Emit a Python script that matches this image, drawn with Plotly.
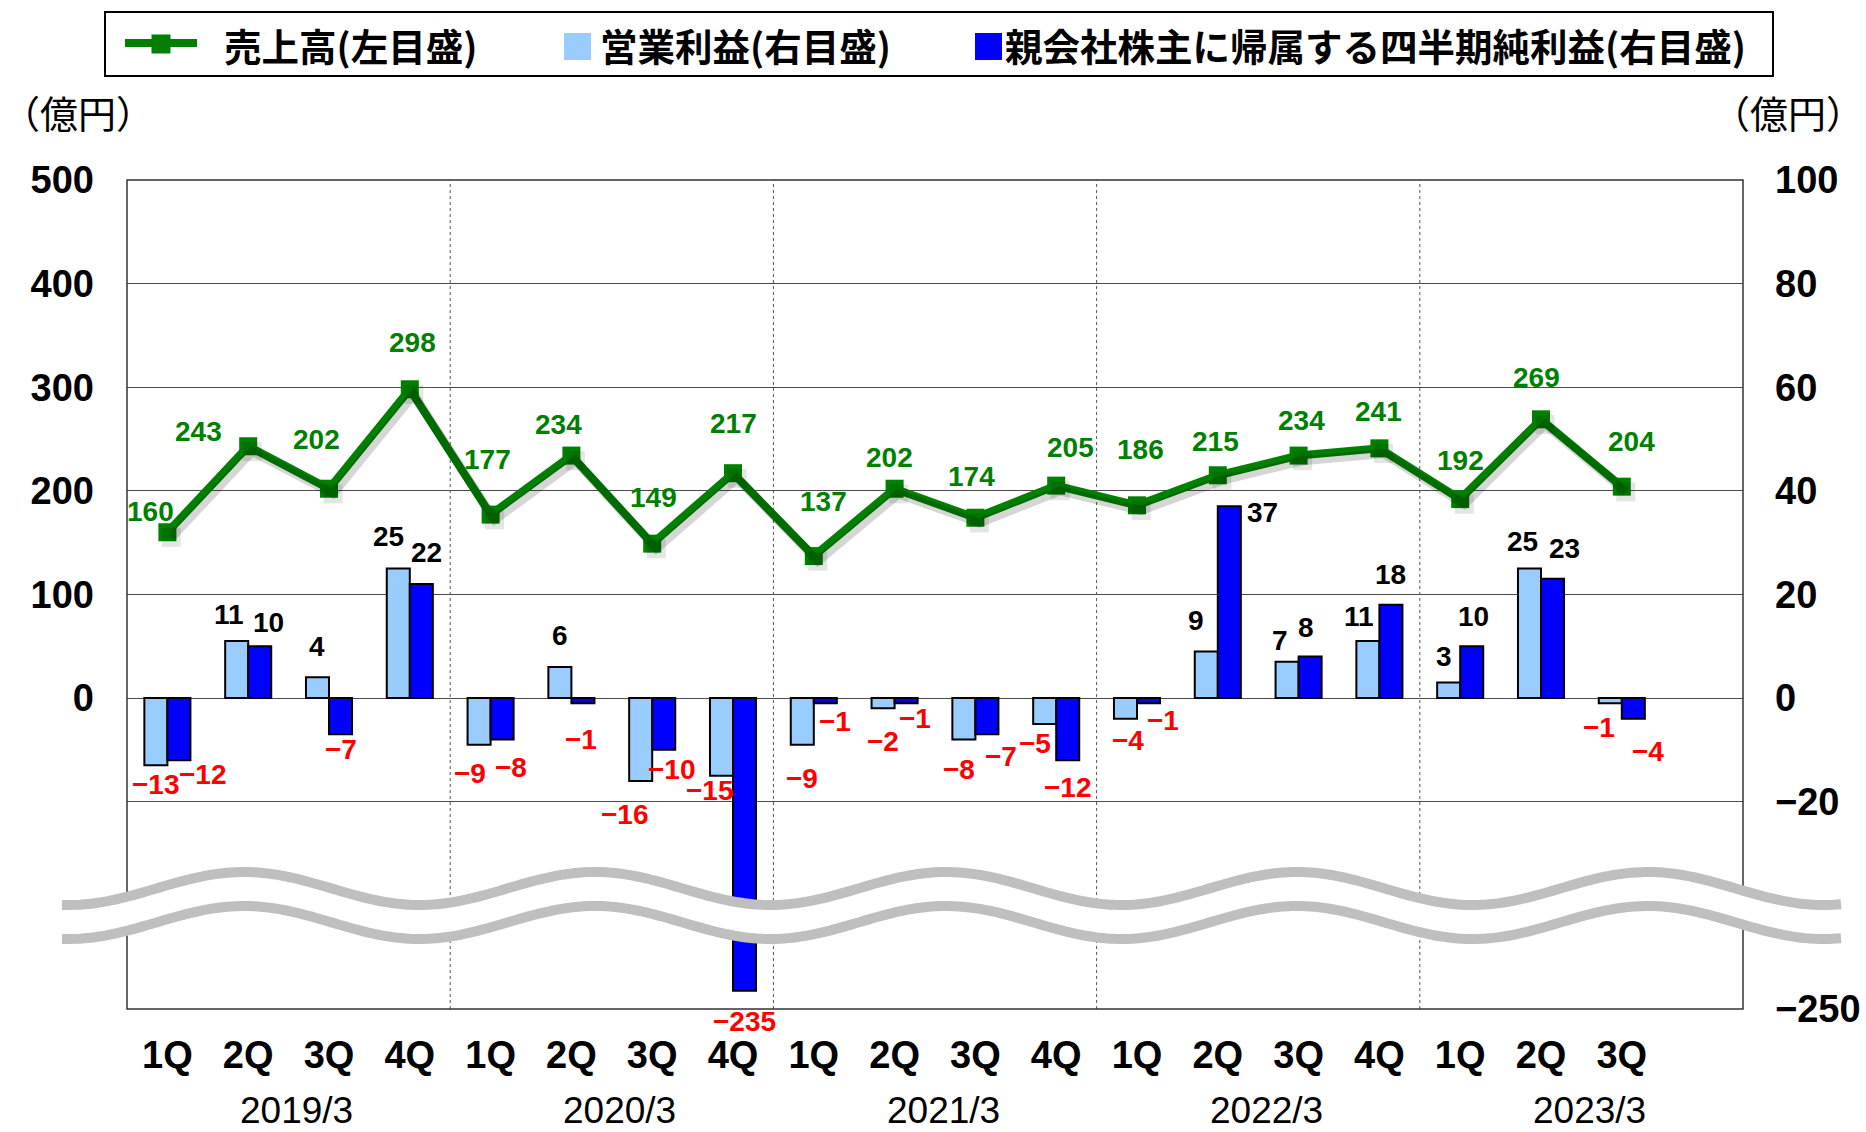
import numpy as np
import plotly.graph_objects as go

# ---------------- data ----------------
quarters = ["1Q", "2Q", "3Q", "4Q", "1Q", "2Q", "3Q", "4Q", "1Q", "2Q",
            "3Q", "4Q", "1Q", "2Q", "3Q", "4Q", "1Q", "2Q", "3Q"]
fiscal_years = ["2019/3", "2020/3", "2021/3", "2022/3", "2023/3"]
sales = [160, 243, 202, 298, 177, 234, 149, 217, 137, 202,
         174, 205, 186, 215, 234, 241, 192, 269, 204]
operating_profit = [-13, 11, 4, 25, -9, 6, -16, -15, -9, -2,
                    -8, -5, -4, 9, 7, 11, 3, 25, -1]
net_income = [-12, 10, -7, 22, -8, -1, -10, -235, -1, -1,
              -7, -12, -1, 37, 8, 18, 10, 23, -4]

legend_names = ["売上高(左目盛)", "営業利益(右目盛)", "親会社株主に帰属する四半期純利益(右目盛)"]
unit_label = "（億円）"

# label nudges (px, dx right / dy down) to mimic the hand-placed labels
sales_off = [(-17, -21), (-50, -15), (-13, -49), (3, -47), (-3, -55), (-13, -31),
             (1, -46), (0, -50), (10, -55), (-5, -31), (-4, -41), (14, -38),
             (3, -56), (-2, -34), (3, -35), (-1, -37), (0, -39), (-5, -42), (10, -45)]
op_off = [(0, 19), (-8, -27), (0, -31), (-10, -32), (-9, 29), (0, -31), (-16, 34),
          (-11, 15), (0, 34), (0, 33), (-5, 30), (-10, 20), (3, 22), (-10, -31),
          (-7, -21), (-9, -25), (-5, -26), (-7, -27), (-11, 24)]
net_off = [(24, 14), (9, -24), (0, 15), (5, -32), (9, 28), (-2, 36), (8, 20),
           (0, 31), (10, 18), (9, 15), (14, 22), (0, 27), (14, 17), (33, 6),
           (-4, -29), (0, -30), (2, -30), (12, -30), (15, 33)]

# ---------------- styling / geometry ----------------
FW, FH = 1866, 1132
ML, MR, MT, MB = 127, 123, 180, 123
PW, PH = FW - ML - MR, FH - MT - MB
N_SLOTS = len(fiscal_years) * 4
BARGAP = 0.43
SPLIT = 0.1252          # paper y where the axis break sits
UP_R = [-40, 100]       # right axis (upper part)
UP_L = [-200, 500]      # left axis
LOW_R = [-250, -165]    # right axis (lower part)

GREEN = "#008000"
LIGHT = "#99CCFF"
BLUE = "#0000FF"
RED = "#FF0000"
NUM_FONT = "Liberation Sans, Arial, sans-serif"
JP_FONT = "Noto Sans CJK JP, sans-serif"


def px(xp):
    return (xp - ML) / PW


def py(yp):
    return (FH - MB - yp) / PH


def fmt(v):
    return str(v).replace("-", "−")


idx = list(range(len(quarters)))

fig = go.Figure()

# bars: upper part and lower (broken) part
for yax in ("y", "y3"):
    fig.add_trace(go.Bar(x=idx, y=operating_profit, xaxis="x", yaxis=yax,
                         marker=dict(color=LIGHT, line=dict(color="black", width=2)),
                         name=legend_names[1], showlegend=False, hoverinfo="skip"))
    fig.add_trace(go.Bar(x=idx, y=net_income, xaxis="x", yaxis=yax,
                         marker=dict(color=BLUE, line=dict(color="black", width=2)),
                         name=legend_names[2], showlegend=False, hoverinfo="skip"))

# shadow of the sales line
fig.add_trace(go.Scatter(x=idx, y=sales, xaxis="x2", yaxis="y4", mode="lines+markers",
                         line=dict(color="rgba(0,0,0,0.16)", width=9),
                         marker=dict(symbol="square", size=19, color="rgba(0,0,0,0.10)"),
                         showlegend=False, hoverinfo="skip"))
# sales line
fig.add_trace(go.Scatter(x=idx, y=sales, xaxis="x", yaxis="y2", mode="lines+markers",
                         line=dict(color=GREEN, width=8),
                         marker=dict(symbol="square", size=18, color=GREEN),
                         name=legend_names[0], showlegend=False, hoverinfo="skip"))

ann = []
bw = (1 - BARGAP) / 2
for i, v in enumerate(sales):
    dx, dy = sales_off[i]
    ann.append(dict(x=i, y=v, xref="x", yref="y2", text=str(v), showarrow=False,
                    xshift=dx, yshift=-dy, xanchor="center", yanchor="middle",
                    font=dict(family=NUM_FONT, size=28, color=GREEN, weight="bold")))
for series, off, sgn in ((operating_profit, op_off, -1), (net_income, net_off, 1)):
    for i, v in enumerate(series):
        dx, dy = off[i]
        ann.append(dict(x=i + sgn * bw / 2, y=v, xref="x",
                        yref="y" if v > UP_R[0] else "y3",
                        text=fmt(v), showarrow=False, xshift=dx, yshift=-dy,
                        xanchor="center", yanchor="middle",
                        font=dict(family=NUM_FONT, size=28,
                                  color=RED if v < 0 else "black", weight="bold")))

# fiscal year labels
for k, fy in enumerate(fiscal_years):
    ann.append(dict(x=4 * k + 1.6, y=py(1110), xref="x", yref="paper", text=fy,
                    showarrow=False, xanchor="center", yanchor="middle",
                    font=dict(family=NUM_FONT, size=37, color="black")))

# unit labels
ann.append(dict(x=px(0), y=py(111), xref="paper", yref="paper", text=unit_label,
                showarrow=False, xanchor="left", yanchor="middle",
                font=dict(family=JP_FONT, size=38, color="black")))
ann.append(dict(x=px(1866), y=py(111), xref="paper", yref="paper", text=unit_label,
                showarrow=False, xanchor="right", yanchor="middle",
                font=dict(family=JP_FONT, size=38, color="black")))

# legend texts
for name, xl in zip(legend_names, (222, 598, 1003)):
    ann.append(dict(x=px(xl), y=py(45), xref="paper", yref="paper", text=name,
                    showarrow=False, xanchor="left", yanchor="middle",
                    font=dict(family=JP_FONT, size=37.5, color="black", weight="bold")))

shapes = []
# fiscal-year dividers
for k in range(1, len(fiscal_years)):
    shapes.append(dict(type="line", xref="x", yref="paper", x0=4 * k - 0.5, x1=4 * k - 0.5,
                       y0=0, y1=1, line=dict(color="#555555", width=1, dash="dot"),
                       layer="below"))
# plot frame
shapes.append(dict(type="rect", xref="paper", yref="paper", x0=0, x1=1, y0=0, y1=1,
                   line=dict(color="#333333", width=1.5), fillcolor="rgba(0,0,0,0)",
                   layer="above"))

# break wave
wx = np.linspace(62, 1841, 400)
yu = 888.5 - 16.5 * np.cos(2 * np.pi * (wx - 244) / 351)
yl = yu + 34


def path_of(xs, ys):
    return "M" + " L".join(f"{px(a):.5f},{py(b):.5f}" for a, b in zip(xs, ys))


fill_path = path_of(np.concatenate([wx, wx[::-1]]), np.concatenate([yu, yl[::-1]])) + " Z"
shapes.append(dict(type="path", xref="paper", yref="paper", path=fill_path,
                   fillcolor="white", line=dict(width=0), layer="above"))
for ys in (yu, yl):
    shapes.append(dict(type="path", xref="paper", yref="paper", path=path_of(wx, ys),
                       line=dict(color="#BFBFBF", width=10), layer="above"))

# custom legend
shapes.append(dict(type="rect", xref="paper", yref="paper", x0=px(105), x1=px(1773),
                   y0=py(76), y1=py(12), line=dict(color="black", width=2),
                   fillcolor="white", layer="above"))
shapes.append(dict(type="line", xref="paper", yref="paper", x0=px(125), x1=px(197),
                   y0=py(43), y1=py(43), line=dict(color=GREEN, width=8), layer="above"))
shapes.append(dict(type="rect", xref="paper", yref="paper", x0=px(151.5), x1=px(170.5),
                   y0=py(53.5), y1=py(34.5), line=dict(width=0), fillcolor=GREEN,
                   layer="above"))
shapes.append(dict(type="rect", xref="paper", yref="paper", x0=px(564), x1=px(591),
                   y0=py(60), y1=py(33), line=dict(width=0), fillcolor=LIGHT, layer="above"))
shapes.append(dict(type="rect", xref="paper", yref="paper", x0=px(975), x1=px(1002),
                   y0=py(60), y1=py(33), line=dict(width=0), fillcolor=BLUE, layer="above"))

right_ticks = list(range(-20, 101, 20))
left_ticks = list(range(0, 501, 100))

fig.update_layout(
    width=FW, height=FH, autosize=False,
    margin=dict(l=ML, r=MR, t=MT, b=MB, pad=0, autoexpand=False),
    paper_bgcolor="white", plot_bgcolor="white",
    barmode="group", bargap=BARGAP, bargroupgap=0,
    showlegend=False,
    xaxis=dict(domain=[0, 1], anchor="y3", range=[-0.5, N_SLOTS - 0.5],
               tickmode="array", tickvals=idx, ticktext=quarters,
               showgrid=False, zeroline=False, showline=False, ticks="",
               ticklabelstandoff=20, automargin=False,
               tickfont=dict(family=NUM_FONT, size=38, color="black", weight="bold")),
    xaxis2=dict(overlaying="x", anchor="y", range=[-0.55, N_SLOTS - 0.55], visible=False),
    yaxis=dict(domain=[SPLIT, 1], anchor="x", side="right", range=UP_R,
               tickmode="array", tickvals=right_ticks, ticktext=[fmt(t) for t in right_ticks],
               showgrid=True, gridcolor="#4d4d4d", gridwidth=1, zeroline=False,
               showline=False, ticks="", ticklabelstandoff=31, automargin=False,
               tickfont=dict(family=NUM_FONT, size=38, color="black", weight="bold")),
    yaxis2=dict(overlaying="y", anchor="x", side="left", range=UP_L,
                tickmode="array", tickvals=left_ticks, ticktext=[str(t) for t in left_ticks],
                showgrid=False, zeroline=False, showline=False, ticks="",
                ticklabelstandoff=32, automargin=False,
                tickfont=dict(family=NUM_FONT, size=38, color="black", weight="bold")),
    yaxis3=dict(domain=[0, SPLIT], anchor="x", side="right", range=LOW_R,
                tickmode="array", tickvals=[LOW_R[0]], ticktext=[fmt(LOW_R[0])],
                showgrid=False, zeroline=False, showline=False, ticks="",
                ticklabelstandoff=31, automargin=False,
                tickfont=dict(family=NUM_FONT, size=38, color="black", weight="bold")),
    yaxis4=dict(overlaying="y", anchor="x2", range=[UP_L[0] + 5, UP_L[1] + 5], visible=False),
    annotations=ann,
    shapes=shapes,
)

fig.write_html("out.html",
               config={"displayModeBar": False},
               post_script="document.body.style.margin='0px';"
                           "document.body.style.overflow='hidden';")
